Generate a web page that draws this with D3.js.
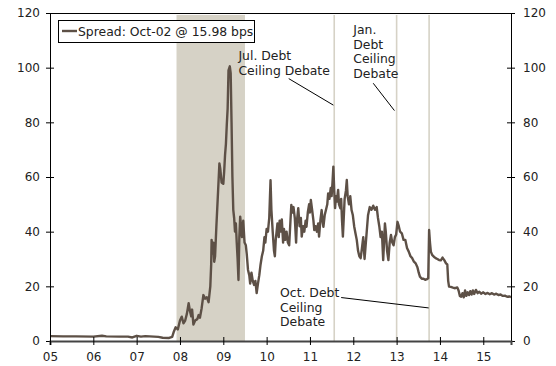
<!DOCTYPE html>
<html><head><meta charset="utf-8">
<script src="https://cdn.jsdelivr.net/npm/d3@7"></script>
<style>
body{margin:0;background:#fff;}
svg text{font-family:"DejaVu Sans",Verdana,sans-serif;font-size:12px;fill:#222;}
</style></head>
<body><svg id="c" width="556" height="366"></svg>
<script>
// ---- data ----
const dates = [2005.00,2005.30,2005.60,2006.00,2006.20,2006.30,2006.60,2006.80,2006.90,2007.00,2007.10,2007.20,2007.50,2007.60,2007.75,2007.82,
2007.86,2007.90,2007.95,2008.00,2008.04,2008.08,2008.12,2008.16,2008.20,2008.23,2008.26,2008.28,2008.31,2008.35,2008.40,2008.43,2008.46,2008.50,2008.54,2008.58,2008.62,2008.66,2008.70,2008.72,2008.73,2008.75,2008.77,2008.79,2008.81,2008.84,2008.88,2008.91,2008.93,2008.96,
2009.00,2009.02,2009.04,2009.06,2009.08,2009.10,2009.12,2009.15,2009.17,2009.19,2009.21,2009.23,2009.25,2009.27,2009.29,2009.31,2009.33,2009.35,2009.37,2009.39,2009.41,2009.43,2009.46,2009.49,2009.52,2009.54,2009.57,2009.60,2009.62,2009.65,2009.68,2009.71,2009.74,2009.77,2009.80,2009.83,2009.86,2009.89,2009.92,2009.95,2009.97,
2010.00,2010.03,2010.06,2010.09,2010.11,2010.14,2010.17,2010.19,2010.21,2010.23,2010.25,2010.28,2010.30,2010.33,2010.35,2010.38,2010.40,2010.43,2010.46,2010.49,2010.52,2010.55,2010.57,2010.60,2010.62,2010.65,2010.68,2010.70,2010.73,2010.76,2010.79,2010.81,2010.84,2010.87,2010.90,2010.92,2010.95,2010.98,
2011.00,2011.02,2011.05,2011.08,2011.10,2011.13,2011.16,2011.19,2011.21,2011.24,2011.27,2011.29,2011.31,2011.34,2011.37,2011.40,2011.42,2011.45,2011.48,2011.50,2011.52,2011.54,2011.56,2011.58,2011.60,2011.62,2011.65,2011.67,2011.70,2011.72,2011.74,2011.76,2011.78,2011.80,2011.83,2011.85,2011.87,2011.90,2011.93,2011.96,2011.99,
2012.02,2012.05,2012.08,2012.11,2012.14,2012.17,2012.20,2012.23,2012.26,2012.30,2012.34,2012.38,2012.42,2012.46,2012.50,2012.54,2012.57,2012.60,2012.63,2012.66,2012.69,2012.71,2012.73,2012.75,2012.78,2012.81,2012.84,2012.87,2012.90,2012.93,2012.96,2012.99,
2013.02,2013.05,2013.08,2013.12,2013.16,2013.20,2013.24,2013.28,2013.32,2013.36,2013.40,2013.44,2013.48,2013.51,2013.54,2013.58,2013.62,2013.66,2013.70,2013.73,2013.75,2013.77,2013.79,2013.82,2013.86,2013.90,2013.94,2013.98,
2014.02,2014.06,2014.10,2014.14,2014.17,2014.19,2014.21,2014.25,2014.30,2014.35,2014.40,2014.43,2014.46,2014.49,2014.52,2014.55,2014.58,2014.61,2014.64,2014.67,2014.70,2014.73,2014.76,2014.79,2014.83,2014.87,2014.91,2014.95,
2015.00,2015.05,2015.10,2015.15,2015.20,2015.25,2015.30,2015.35,2015.40,2015.45,2015.50,2015.55,2015.60,2015.64];
const spread = [1.8,1.7,1.7,1.6,1.9,1.7,1.6,1.6,1.3,1.9,1.6,1.8,1.5,1.2,1.1,1.5,
3.5,5.0,4.2,7.5,8.9,6.5,7.5,10,13.8,11,9,11.5,6,7.5,8,9.5,8.5,12,16.8,15.5,16,14.2,20,28,37,32,36,29,31,42,55,65,63,58,
57.5,62,68,72,79,85,99,100.5,98,80,60,48,45,40,43,36,30,22.3,38,45.5,42,38,44,36,35,32,26,24,21,25,22,20.5,22,17.5,21,24,28,31,33,38,36,
41,40,45,58.8,48,40,33,31,37,40,43,38,44,40,44.5,36,41,37,40,36,35,44,49.8,47,49,45,36,44,48.6,42,45,38.2,42,40,44,41.8,47,50,
47,51.6,48,44,40.6,42,40,43,38.2,44,47.9,44,41.8,46,48,50,54,52,56,53,58,63.8,55,48.6,53,51,55.3,50,48.6,52,44,38.2,45,52,55,58.9,53,50,53,47.9,46,
42,39.4,37,33,31,30.3,34,38,30,38,46,49,48,49.5,48,49,45,42,38,40,29.6,36,43,40,33,29.6,36,38.8,36,35,38,39,
43.6,42,40,39.4,37,37,34,32.7,31,30.3,29,28.4,27,25,23.5,22.8,22.8,22.4,22.6,23,40.6,36,32.7,31.5,30.8,30.3,30,29.6,
29.5,30.5,29.6,28.4,28,22,19.9,19.8,19.5,19.3,19.6,18.5,16.5,16.2,17.5,16,18.5,16.5,17.8,16.8,18.2,17,18.5,17.2,18.7,17.5,18,17.3,
17.8,17.2,17.6,17.1,17.5,17,17.3,16.8,17,16.5,16.6,16.2,16.3,16.0];
const recession = [2007.92, 2009.50];
const debates = [2011.56, 2013.00, 2013.75];
const yTicks = [0,20,40,60,80,100,120];
const xTicks = [2005,2006,2007,2008,2009,2010,2011,2012,2013,2014,2015];
const legendLabel = "Spread: Oct-02 @ 15.98 bps";
const noteText = [["Jul. Debt","Ceiling Debate"],["Jan.","Debt","Ceiling","Debate"],["Oct. Debt","Ceiling","Debate"]];
const noteAt = [[2009.35,102.8],[2012.00,112.4],[2010.31,16.2]];      // [year, spread] of first baseline
const noteFrom = [[2010.51,96.0],[2012.46,94.3],[2011.72,15.9]];     // leader line start
const noteTo = [[2011.54,86.3],[2012.95,84.3],[2013.74,12.1]];       // leader line end
// ---- chart ----
const svg = d3.select("#c");
const L=50,R=511,T=13,B=341;
const x = d3.scaleLinear().domain([2005,2015.64]).range([L,R]);
const y = d3.scaleLinear().domain([0,120]).range([B,T]);
const shade="#d6d2c6", lineCol="#5d5046";

svg.append("rect").attr("x",x(recession[0])).attr("width",x(recession[1])-x(recession[0]))
  .attr("y",y(119.3)).attr("height",y(0)-y(119.3)).attr("fill",shade);
svg.selectAll("line.deb").data(debates).join("line").attr("class","deb")
  .attr("x1",d=>x(d)).attr("x2",d=>x(d)).attr("y1",y(119.3)).attr("y2",y(0))
  .attr("stroke",shade).attr("stroke-width",1.6);

// top border
svg.append("line").attr("x1",L).attr("x2",R).attr("y1",T+0.5).attr("y2",T+0.5).attr("stroke","#000");

const line = d3.line().x((d,i)=>x(dates[i])).y(d=>y(d));
svg.append("path").datum(spread).attr("d",line).attr("fill","none")
  .attr("stroke",lineCol).attr("stroke-width",2.4).attr("stroke-linejoin","round");

// axes
const gl = svg.append("g").attr("transform",`translate(${L},0)`)
  .call(d3.axisLeft(y).tickValues(yTicks).tickSizeOuter(0).tickSize(4).tickPadding(6));
gl.selectAll(".tick line").attr("x1",-4).attr("x2",4);
const gr = svg.append("g").attr("transform",`translate(${R},0)`)
  .call(d3.axisRight(y).tickValues(yTicks).tickSizeOuter(0).tickSize(4).tickPadding(8));
gr.selectAll(".tick line").attr("x1",-4).attr("x2",4);
const gb = svg.append("g").attr("transform",`translate(0,${B})`)
  .call(d3.axisBottom(x).tickValues(xTicks).tickSizeOuter(0).tickSize(4).tickPadding(7)
  .tickFormat(d=>String(d%100).padStart(2,"0")));
gb.selectAll(".tick line").attr("y1",-4).attr("y2",4);
gb.select(".domain").attr("stroke","#444").attr("stroke-width",2);
[gl,gr,gb].forEach(g=>{g.selectAll("text").attr("fill","#222").style("font-size","12px").style("font-family","DejaVu Sans");
  g.selectAll(".tick line").attr("stroke","#000");});
gl.select(".domain").attr("stroke","#000"); gr.select(".domain").attr("stroke","#000");

// legend
svg.append("rect").attr("x",58.5).attr("y",20.5).attr("width",196).attr("height",22)
  .attr("fill","#fff").attr("stroke","#000");
svg.append("line").attr("x1",62).attr("x2",77).attr("y1",31).attr("y2",31).attr("stroke",lineCol).attr("stroke-width",2.4);
svg.append("text").attr("x",78).attr("y",36).style("font-size","12.4px").text(legendLabel);

// annotations
noteText.forEach((lines,k)=>{
  const tx = x(noteAt[k][0]), ty = y(noteAt[k][1]);
  lines.forEach((s,i)=>svg.append("text").attr("x",tx).attr("y",ty+i*14.8).style("font-size","12.4px").text(s));
  svg.append("line").attr("x1",x(noteFrom[k][0])).attr("y1",y(noteFrom[k][1]))
    .attr("x2",x(noteTo[k][0])).attr("y2",y(noteTo[k][1]))
    .attr("stroke","#000").attr("stroke-width",1);
});
</script></body></html>
